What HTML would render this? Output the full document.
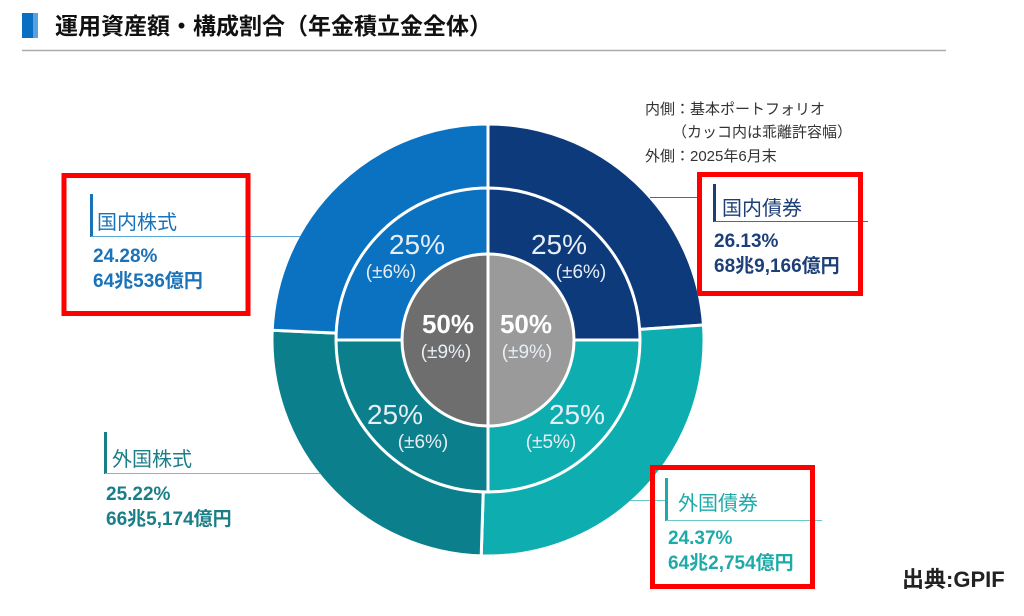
<!DOCTYPE html>
<html><head><meta charset="utf-8"><style>
body{margin:0;background:#fff;width:1024px;height:611px;overflow:hidden}
svg text{font-family:"Liberation Sans","Noto Sans CJK JP",sans-serif}
</style></head><body>
<svg width="1024" height="611" viewBox="0 0 1024 611">
<rect x="22" y="13" width="11" height="25" fill="#0a6fc2"/><rect x="33" y="13" width="5" height="25" fill="#5aa0dc"/>
<text x="55" y="34" font-size="23" font-weight="bold" fill="#111">運用資産額・構成割合（年金積立金全体）</text>
<line x1="22" y1="50.5" x2="946" y2="50.5" stroke="#aaa" stroke-width="1.5"/>
<g transform="translate(488,340)" stroke="#fff" stroke-width="3">
<path d="M0,0 L0,-216 A216,216 0 0 1 215.5,-15.0 Z" fill="#0d3a7a"/>
<path d="M0,0 L215.5,-15.0 A216,216 0 0 1 -6.8,215.9 Z" fill="#0eaeb0"/>
<path d="M0,0 L-6.8,215.9 A216,216 0 0 1 -215.8,-9.8 Z" fill="#0b7f8c"/>
<path d="M0,0 L-215.8,-9.8 A216,216 0 0 1 0,-216 Z" fill="#0a72c0"/>
<path d="M0,0 L0,-152 A152,152 0 0 1 152,0 Z" fill="#0d3a7a"/>
<path d="M0,0 L152,0 A152,152 0 0 1 0,152 Z" fill="#0eaeb0"/>
<path d="M0,0 L0,152 A152,152 0 0 1 -152,0 Z" fill="#0b7f8c"/>
<path d="M0,0 L-152,0 A152,152 0 0 1 0,-152 Z" fill="#0a72c0"/>
<path d="M0,-86 A86,86 0 0 1 0,86 Z" fill="#9a9a9a"/>
<path d="M0,86 A86,86 0 0 1 0,-86 Z" fill="#6e6e6e"/>
</g>
<g fill="#e8eef6" text-anchor="middle">
<text x="417" y="254" font-size="28">25%</text><text x="391" y="278" font-size="19">(±6%)</text>
<text x="559" y="254" font-size="28">25%</text><text x="581" y="278" font-size="19">(±6%)</text>
<text x="395" y="424" font-size="28">25%</text><text x="423" y="448" font-size="19">(±6%)</text>
<text x="577" y="424" font-size="28">25%</text><text x="551" y="448" font-size="19">(±5%)</text>
<text x="448" y="333" font-size="26" font-weight="bold" fill="#fff">50%</text><text x="446" y="358" font-size="19">(±9%)</text>
<text x="526" y="333" font-size="26" font-weight="bold" fill="#fff">50%</text><text x="527" y="358" font-size="19">(±9%)</text>
</g>
<g font-size="15" fill="#333">
<text x="645" y="114">内側：基本ポートフォリオ</text>
<text x="672" y="137">（カッコ内は乖離許容幅）</text>
<text x="645" y="161">外側：2025年6月末</text>
</g>
<!-- domestic stocks -->
<rect x="90" y="194" width="3" height="43" fill="#1a72b8"/>
<line x1="91" y1="236.5" x2="300" y2="236.5" stroke="#5aa8d8" stroke-width="1"/>
<g fill="#1a72b8" font-weight="bold" font-size="19"><text x="97" y="229" font-size="20" font-weight="normal">国内株式</text><text x="93" y="262">24.28%</text><text x="93" y="287">64兆536億円</text></g>
<!-- domestic bonds -->
<line x1="650" y1="197.5" x2="700" y2="197.5" stroke="#4a6a9a"/>
<rect x="713" y="184" width="3" height="38" fill="#1d3f78"/>
<line x1="714" y1="221.5" x2="868" y2="221.5" stroke="#4a6a9a"/>
<g fill="#1d3f78" font-weight="bold" font-size="19"><text x="722" y="215" font-size="20" font-weight="normal">国内債券</text><text x="714" y="247">26.13%</text><text x="714" y="272">68兆9,166億円</text></g>
<!-- foreign stocks -->
<rect x="104" y="432" width="3" height="42" fill="#1a7e88"/>
<line x1="105" y1="473.5" x2="320" y2="473.5" stroke="#6ac2c8"/>
<g fill="#1a7e88" font-weight="bold" font-size="19"><text x="112" y="466" font-size="20" font-weight="normal">外国株式</text><text x="106" y="500">25.22%</text><text x="106" y="525">66兆5,174億円</text></g>
<!-- foreign bonds -->
<line x1="630" y1="500.5" x2="666" y2="500.5" stroke="#6ac8c8"/>
<rect x="665" y="478" width="3" height="43" fill="#1faaaa"/>
<line x1="666" y1="520.5" x2="822" y2="520.5" stroke="#6ac8c8"/>
<g fill="#1faaaa" font-weight="bold" font-size="19"><text x="678" y="510" font-size="20" font-weight="normal">外国債券</text><text x="668" y="544">24.37%</text><text x="668" y="569">64兆2,754億円</text></g>
<!-- red boxes -->
<g fill="none" stroke="#f00" stroke-width="5">
<rect x="64" y="175.5" width="184" height="138"/>
<rect x="699.5" y="174.5" width="161" height="119"/>
<rect x="652.5" y="467.5" width="160" height="119"/>
</g>
<text x="902" y="587" font-size="22" font-weight="bold" fill="#222">出典:GPIF</text>
</svg>
</body></html>
